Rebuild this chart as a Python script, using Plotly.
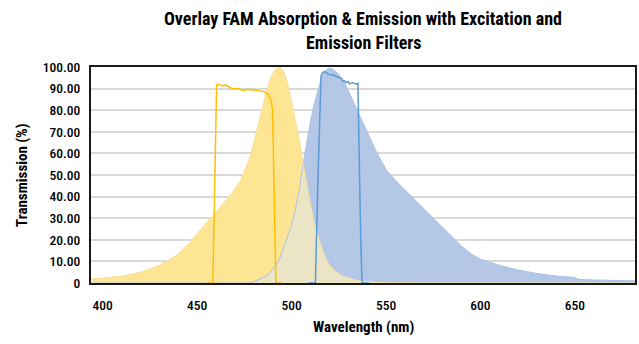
import numpy as np
import plotly.graph_objects as go

# ---- data ----
wavelength = [394, 400, 405, 410, 415, 420, 425, 430, 435, 440, 445, 450, 455, 460, 465,
              470, 473, 476, 478, 480, 482, 484, 486, 488, 490, 492, 494, 496, 498, 500,
              502, 504, 506, 508, 510, 512, 514, 516, 518, 520, 522, 524, 526, 528, 530,
              533, 536, 540, 545, 550, 555, 560, 565, 570, 575, 580, 585, 590, 595, 600,
              610, 620, 630, 640, 650, 652, 660, 670, 682]

fam_absorption = [1.8, 2.2, 2.7, 3.2, 4.0, 5.0, 6.5, 8.3, 10.6, 13.4, 17.8, 23.0, 28.0, 33.0, 38.0,
                  43.5, 47.5, 54.0, 58.5, 65.0, 72.5, 80.0, 86.5, 92.5, 97.0, 99.5, 100.0, 97.5, 92.0, 84.0,
                  76.0, 66.5, 56.0, 45.5, 36.0, 27.6, 21.5, 16.0, 11.5, 8.3, 6.2, 4.8, 3.7, 2.9, 2.3,
                  1.5, 1.0, 0.6, 0.3, 0.1, 0, 0, 0, 0, 0, 0, 0, 0, 0, 0,
                  0, 0, 0, 0, 0, 0, 0, 0, 0]

fam_emission = [0, 0, 0, 0, 0, 0, 0, 0, 0, 0, 0, 0, 0, 0, 0,
                0, 0, 0, 0, 0.6, 1.3, 2.0, 3.0, 4.2, 6.3, 8.5, 12.0, 16.8, 21.5, 27.0,
                34.0, 43.0, 54.5, 65.5, 75.0, 83.0, 89.7, 95.5, 98.5, 99.5, 99.0, 97.5, 95.5, 93.0, 89.0,
                83.5, 77.5, 70.0, 60.5, 52.5, 47.5, 43.2, 38.8, 34.5, 30.0, 26.0, 21.5, 17.0, 13.5, 11.0,
                8.2, 6.0, 4.4, 3.2, 2.6, 1.6, 1.4, 1.2, 1.0]

excitation_wl = [455, 458.3, 460.3, 461.5, 463.3, 465.1, 467.7, 469.5, 471.3, 473.1, 474.8, 476.6,
                 478.4, 480.1, 482.8, 485.4, 487.3, 489.0, 489.9, 490.6, 491.2, 491.7, 495]
excitation_t = [0, 0, 91.7, 92.0, 91.2, 91.7, 90.4, 89.8, 90.1, 89.4, 89.0, 89.8,
                89.4, 89.5, 88.9, 88.6, 87.5, 84.7, 80.9, 55.0, 25.0, 0, 0]

emission_filter_wl = [509, 512.6, 514.0, 515.6, 516.5, 517.5, 518.3, 519.2, 520.9, 522.0, 523.6, 525.0,
                      526.2, 527.1, 528.0, 528.9, 530.0, 530.7, 531.5, 532.5, 533.5, 534.2, 535.1,
                      535.8, 536.6, 537.3, 541]
emission_filter_t = [0, 0, 50.0, 96.0, 97.5, 97.8, 97.5, 96.8, 96.3, 96.5, 95.6, 95.2,
                     94.6, 93.4, 93.6, 92.8, 93.2, 92.2, 92.6, 92.8, 92.3, 92.0, 92.4,
                     55.0, 20.0, 0, 0]

y_ticks = [0, 10, 20, 30, 40, 50, 60, 70, 80, 90, 100]
y_tick_text = ["0", "10.00", "20.00", "30.00", "40.00", "50.00", "60.00", "70.00", "80.00", "90.00", "100.00"]
x_ticks = [400, 450, 500, 550, 600, 650]

title_line1 = "Overlay FAM Absorption &amp; Emission with Excitation and"
title_line2 = "Emission Filters"
x_title = "Wavelength (nm)"
y_title = "Transmission (%)"

overlap = np.minimum(np.array(fam_absorption), np.array(fam_emission))

FONT = "Roboto Condensed, Noto Sans Condensed, Open Sans Condensed, Roboto, sans-serif"

fig = go.Figure()
fig.add_trace(go.Scatter(x=wavelength, y=fam_emission, mode="lines", fill="tozeroy",
                         fillcolor="#B4C7E7", line=dict(width=0, color="#B4C7E7"),
                         name="FAM Emission", hoverinfo="skip"))
fig.add_trace(go.Scatter(x=wavelength, y=fam_absorption, mode="lines", fill="tozeroy",
                         fillcolor="#FDE594", line=dict(width=0, color="#FDE594"),
                         name="FAM Absorption", hoverinfo="skip"))
fig.add_trace(go.Scatter(x=wavelength, y=overlap, mode="lines", fill="tozeroy",
                         fillcolor="#EBE5C6", line=dict(width=0, color="#EBE5C6"),
                         name="Overlap", hoverinfo="skip"))
fig.add_trace(go.Scatter(x=wavelength, y=fam_emission, mode="lines",
                         line=dict(width=1, color="#A9C1E8"), hoverinfo="skip"))
fig.add_trace(go.Scatter(x=wavelength, y=fam_absorption, mode="lines",
                         line=dict(width=1, color="#F8E29A"), hoverinfo="skip"))
fig.add_trace(go.Scatter(x=excitation_wl, y=excitation_t, mode="lines",
                         line=dict(width=1.5, color="#FFC000"), name="Excitation Filter"))
fig.add_trace(go.Scatter(x=emission_filter_wl, y=emission_filter_t, mode="lines",
                         line=dict(width=1.5, color="#5B9BD5"), name="Emission Filter"))

PLOT_TOP, PLOT_H, PLOT_L, PLOT_W = 67, 216, 91, 544

def py(pixel_y):
    return 1 + (PLOT_TOP - pixel_y) / PLOT_H

def px(pixel_x):
    return (pixel_x - PLOT_L) / PLOT_W

fig.update_layout(
    width=639, height=344,
    margin=dict(l=91, r=4, t=67, b=61),
    paper_bgcolor="white", plot_bgcolor="white",
    showlegend=False,
    font=dict(family=FONT, color="black", size=13),
    annotations=[
        dict(text="<b>" + title_line1 + "</b>", xref="paper", yref="paper", x=px(363), y=py(19),
             xanchor="center", yanchor="middle", showarrow=False,
             font=dict(family=FONT, size=18, color="black")),
        dict(text="<b>" + title_line2 + "</b>", xref="paper", yref="paper", x=px(363), y=py(43),
             xanchor="center", yanchor="middle", showarrow=False,
             font=dict(family=FONT, size=18, color="black")),
        dict(text="<b>" + x_title + "</b>", xref="paper", yref="paper", x=px(363), y=py(327),
             xanchor="center", yanchor="middle", showarrow=False,
             font=dict(family=FONT, size=15, color="black")),
        dict(text="<b>" + y_title + "</b>", xref="paper", yref="paper", x=px(22), y=0.5,
             xanchor="center", yanchor="middle", showarrow=False, textangle=-90,
             font=dict(family=FONT, size=15, color="black")),
    ],
)
fig.update_xaxes(range=[393.8, 681.8], tickvals=x_ticks, showgrid=False, zeroline=False,
                 showline=True, mirror=True, linecolor="#1a1a1a", linewidth=2,
                 ticks="", ticklabelstandoff=9, automargin=False,
                 tickfont=dict(family=FONT, size=13.5, color="black", weight=500))
fig.update_yaxes(range=[0, 100], tickvals=y_ticks, ticktext=y_tick_text,
                 showgrid=True, gridcolor="#D9D9D9", gridwidth=1.5, zeroline=False,
                 showline=True, mirror=True, linecolor="#1a1a1a", linewidth=2,
                 ticks="", ticklabelstandoff=6, automargin=False,
                 tickfont=dict(family=FONT, size=13.5, color="black", weight=500))

fig.write_html("out.html", config={"displayModeBar": False},
               post_script="document.body.style.margin='0px';document.body.style.overflow='hidden';")
